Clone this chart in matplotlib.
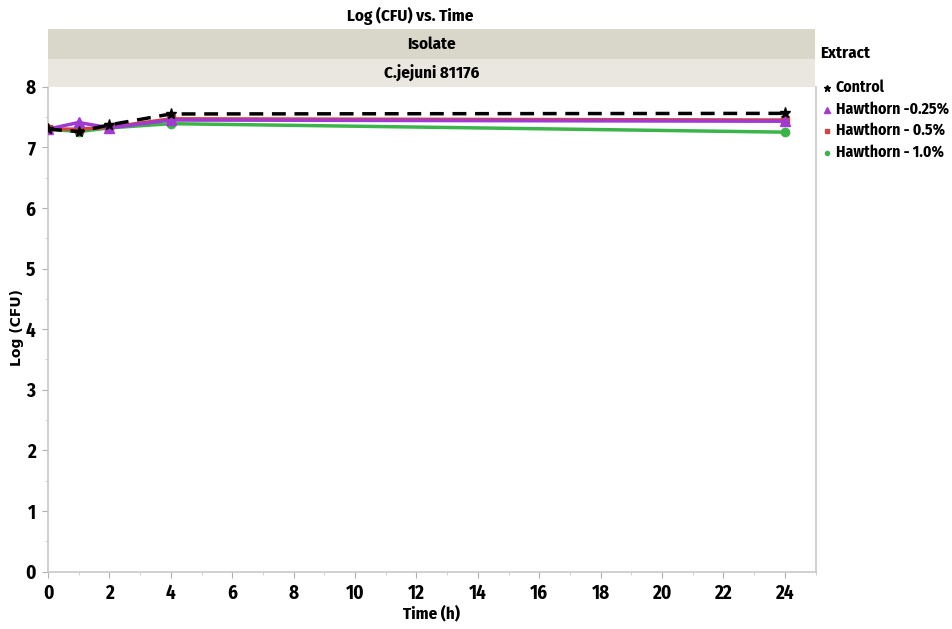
import matplotlib
matplotlib.use("Agg")
import matplotlib.pyplot as plt
from matplotlib import font_manager as fm
from matplotlib.lines import Line2D
from matplotlib.patches import Rectangle


def has_bold(name):
    for f in fm.fontManager.ttflist:
        if f.name == name and f.style == 'normal':
            w = f.weight
            if isinstance(w, str):
                w = {'semibold': 600, 'demibold': 600, 'bold': 700, 'heavy': 800, 'black': 900}.get(w, 400)
            if 600 <= w <= 800:
                return True
    return False


candidates = ['Segoe UI', 'Selawik', 'Source Sans 3', 'Source Sans Pro', 'Fira Sans Condensed',
              'PT Sans Narrow', 'Open Sans Condensed', 'Roboto Condensed', 'Liberation Sans Narrow',
              'Fira Sans', 'PT Sans', 'Roboto']
main_font = next((c for c in candidates if has_bold(c)), 'DejaVu Sans')
plt.rcParams['font.family'] = [main_font, 'DejaVu Sans']
plt.rcParams['font.weight'] = 'bold'

time_h = [0, 1, 2, 4, 24]
control = [7.30, 7.26, 7.37, 7.55, 7.56]
haw_025 = [7.30, 7.41, 7.32, 7.45, 7.43]
haw_05 = [7.30, 7.30, 7.33, 7.47, 7.45]
haw_10 = [7.30, 7.26, 7.32, 7.39, 7.25]

series_names = ["Control", "Hawthorn -0.25%", "Hawthorn - 0.5%", "Hawthorn - 1.0%"]
x_ticks = [0, 2, 4, 6, 8, 10, 12, 14, 16, 18, 20, 22, 24]
y_ticks = [0, 1, 2, 3, 4, 5, 6, 7, 8]

W, H = 952, 629
fig = plt.figure(figsize=(W / 100, H / 100), dpi=100)
renderer = fig.canvas.get_renderer()

def fx(px):
    return px / W

def fy(py):
    return 1 - py / H

# size the text so that the title spans about 126 px like the reference
probe = fig.text(0, 0, "Log (CFU) vs. Time", fontsize=10, fontweight='bold')
w10 = probe.get_window_extent(renderer).width
probe.remove()
FS = max(10.0, min(15.0, 10 * 126.0 / w10))

# legend text sized so the longest entry fits within the figure
probe = fig.text(0, 0, "Hawthorn -0.25%", fontsize=10, fontweight='bold')
wl10 = probe.get_window_extent(renderer).width
probe.remove()
FSL = min(FS, 10 * 113.0 / wl10)

ax_l, ax_r, ax_t, ax_b = 48, 815.5, 86.7, 571.5
ax = fig.add_axes([fx(ax_l), fy(ax_b), fx(ax_r) - fx(ax_l), fy(ax_t) - fy(ax_b)])

green = "#3bb54a"
red = "#d2443c"
purple = "#a13ad2"

ax.plot(time_h, haw_10, color=green, lw=2.5, marker='o', ms=6, zorder=3)
ax.plot(time_h, haw_05, color=red, lw=2.5, marker='s', ms=6, zorder=4)
ax.plot(time_h, haw_025, color=purple, lw=2.5, marker='^', ms=7, zorder=5)
ax.plot(time_h, control, color='black', lw=2.5, ls=(0, (4, 2.5)), marker='*', ms=8, zorder=6)

ax.set_xlim(0, 25)
ax.set_ylim(0, 8)
ax.set_xticks(x_ticks)
ax.set_xticks([1, 3, 5, 7, 9, 11, 13, 15, 17, 19, 21, 23, 25], minor=True)
ax.set_yticks(y_ticks)
ax.set_yticks([0.5, 1.5, 2.5, 3.5, 4.5, 5.5, 6.5, 7.5], minor=True)
ax.set_xticklabels([str(v) for v in x_ticks], fontsize=FS + 1.5, fontweight='bold')
ax.set_yticklabels([str(v) for v in y_ticks], fontsize=FS + 1.5, fontweight='bold')

ax.spines['top'].set_visible(False)
for s in ['left', 'bottom', 'right']:
    ax.spines[s].set_color('#c8c8c8')
    ax.spines[s].set_linewidth(1.2)
ax.tick_params(axis='both', which='major', length=4, color='#b0b0b0', pad=5)
ax.tick_params(axis='both', which='minor', length=2.5, color='#c8c8c8')

ax.set_xlabel("Time (h)", fontsize=FS, fontweight='bold', labelpad=1)
fig.text(fx(17), fy(328), "Log (CFU)", rotation=90, ha='center', va='center',
         fontsize=10, fontweight='bold', family=['DejaVu Sans'])

# strips
strip_iso = Rectangle((fx(ax_l), fy(59)), fx(ax_r) - fx(ax_l), fy(29.3) - fy(59),
                      transform=fig.transFigure, facecolor='#d9d7c9', edgecolor='none')
strip_cj = Rectangle((fx(ax_l), fy(ax_t)), fx(ax_r) - fx(ax_l), fy(59) - fy(ax_t),
                     transform=fig.transFigure, facecolor='#e9e7e0', edgecolor='none')
fig.add_artist(strip_iso)
fig.add_artist(strip_cj)
cx = (fx(ax_l) + fx(ax_r)) / 2
fig.text(cx, fy(44.5), "Isolate", ha='center', va='center', fontsize=FS, fontweight='bold')
fig.text(cx, fy(73), "C.jejuni 81176", ha='center', va='center', fontsize=FS, fontweight='bold')
fig.text(fx(410), fy(16), "Log (CFU) vs. Time", ha='center', va='center', fontsize=FS, fontweight='bold')

# legend
fig.text(fx(820), fy(53), "Extract", ha='left', va='center', fontsize=FS, fontweight='bold')
leg_y = [87, 109, 130, 152]
leg_style = [('*', 'black', 5), ('^', purple, 4), ('s', red, 3), ('o', green, 3)]
for name, yy, (mk, col, ms) in zip(series_names, leg_y, leg_style):
    fig.add_artist(Line2D([fx(827)], [fy(yy + 1)], transform=fig.transFigure,
                          marker=mk, color=col, ms=ms, ls='none'))
    fig.text(fx(836), fy(yy), name, ha='left', va='center', fontsize=FSL, fontweight='bold')

fig.savefig("out.png", dpi=100)
